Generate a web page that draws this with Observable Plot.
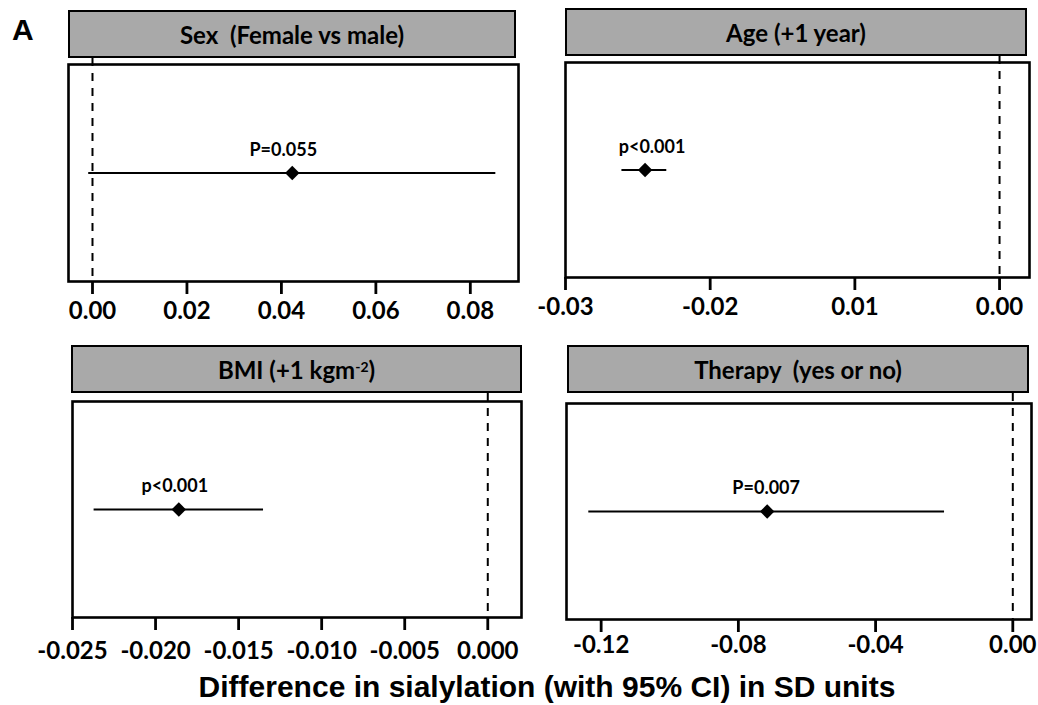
<!DOCTYPE html>
<html><head><meta charset="utf-8">
<script src="https://cdn.jsdelivr.net/npm/d3@7"></script>
<script src="https://cdn.jsdelivr.net/npm/@observablehq/plot@0.6"></script>
<style>
body{margin:0;background:#fff;}
#root{position:relative;width:1038px;height:705px;overflow:hidden;background:#fff;}
.hdr{position:absolute;background:#a9a9a9;border:2px solid #000;box-sizing:border-box;display:flex;align-items:center;justify-content:center;font:bold 24px Lato,sans-serif;color:#000;white-space:pre;}
.hdr sup{font-size:14px;position:relative;top:-3px;}
.panel{position:absolute;}
.lab{position:absolute;font-family:"Liberation Sans",Arial,sans-serif;font-weight:bold;color:#000;white-space:nowrap;}
</style></head>
<body><div id="root"></div>
<script>
// ---- data ----
const titles = ["Sex  (Female vs male)", "Age (+1 year)", "BMI (+1 kgm<sup>-2</sup>)", "Therapy  (yes or no)"];
const estimates = [0.0423, -0.0245, -0.0186, -0.0716];
const lowerCI = [-0.0008, -0.0261, -0.0237, -0.1236];
const upperCI = [0.0854, -0.0230, -0.0135, -0.0199];
const pLabels = ["P=0.055", "p<0.001", "p<0.001", "P=0.007"];
const tickValues = [
  [0, 0.02, 0.04, 0.06, 0.08],
  [-0.03, -0.02, -0.01, 0],
  [-0.025, -0.02, -0.015, -0.01, -0.005, 0],
  [-0.12, -0.08, -0.04, 0]
];
const tickLabels = [
  ["0.00", "0.02", "0.04", "0.06", "0.08"],
  ["-0.03", "-0.02", "0.01", "0.00"],
  ["-0.025", "-0.020", "-0.015", "-0.010", "-0.005", "0.000"],
  ["-0.12", "-0.08", "-0.04", "0.00"]
];
const xDomains = [[-0.00508, 0.0902], [-0.03, 0.00207], [-0.025, 0.00203], [-0.1301, 0.00545]];
const xTitle = "Difference in sialylation (with 95% CI) in SD units";
const panelLetter = "A";

// ---- layout (styles) ----
const layout = [
  {hdr:[68,10,516,58],  frame:[68,64,518,281],  ldx:-9, pad:7},
  {hdr:[565,8,1027,56], frame:[565,62,1029,277], ldx:7, pad:7},
  {hdr:[71,345,522,393], frame:[72,401,521,617], ldx:-4, pad:11},
  {hdr:[567,345,1029,393], frame:[566,403,1031,619], ldx:-1, pad:3}
];
const ML = 45, MR = 45, MT = 10, MB = 60;

const root = document.getElementById("root");

titles.forEach((t, i) => {
  const L = layout[i];
  const h = document.createElement("div");
  h.className = "hdr";
  h.style.left = L.hdr[0] + "px"; h.style.top = L.hdr[1] + "px";
  h.style.width = (L.hdr[2] - L.hdr[0]) + "px"; h.style.height = (L.hdr[3] - L.hdr[1]) + "px";
  h.innerHTML = t;
  root.appendChild(h);

  const fw = L.frame[2] - L.frame[0], fh = L.frame[3] - L.frame[1];
  const gap = L.frame[1] - L.hdr[3];
  const row = [{est: estimates[i], lo: lowerCI[i], hi: upperCI[i], p: pLabels[i]}];
  const ticks = tickValues[i], labels = tickLabels[i];
  const chart = Plot.plot({
    width: fw + ML + MR, height: fh + MT + MB,
    marginLeft: ML, marginRight: MR, marginTop: MT, marginBottom: MB,
    x: {domain: xDomains[i], axis: null},
    y: {domain: [0, 1], axis: null},
    style: {overflow: "visible", background: "transparent", color: "#000"},
    marks: [
      Plot.ruleX([0], {stroke: "#000", strokeWidth: 2, strokeDasharray: "8,7", insetTop: -gap}),
      Plot.frame({stroke: "#000", strokeWidth: 2.6}),
      Plot.axisX({ticks, tickFormat: d => labels[ticks.indexOf(d)], tickSize: 13, tickPadding: L.pad,
        strokeWidth: 2.8, fontSize: 24, fontWeight: "bold", fontFamily: "Lato", fill: "#000", stroke: "#000"}),
      Plot.ruleY(row, {y: () => 0.5, x1: "lo", x2: "hi", stroke: "#000", strokeWidth: 2}),
      Plot.dot(row, {x: "est", y: () => 0.5, symbol: "diamond2", r: 6.5, fill: "#000", stroke: "none"}),
      Plot.text(row, {x: "est", y: () => 0.5, text: "p", dy: -23, dx: L.ldx, fontSize: 18, fontWeight: "bold", fontFamily: "Lato", fill: "#000"})
    ]
  });
  chart.classList.add("panel");
  chart.style.left = (L.frame[0] - ML) + "px";
  chart.style.top = (L.frame[1] - MT) + "px";
  root.appendChild(chart);
});

const a = document.createElement("div");
a.className = "lab"; a.textContent = panelLetter;
a.style.cssText += "left:12px;top:13px;font-size:30px;line-height:34px;";
root.appendChild(a);

const tt = document.createElement("div");
tt.className = "lab"; tt.textContent = xTitle;
tt.style.cssText += "left:147px;width:800px;text-align:center;top:671px;font-size:30px;line-height:32px;";
root.appendChild(tt);
</script>
</body></html>
